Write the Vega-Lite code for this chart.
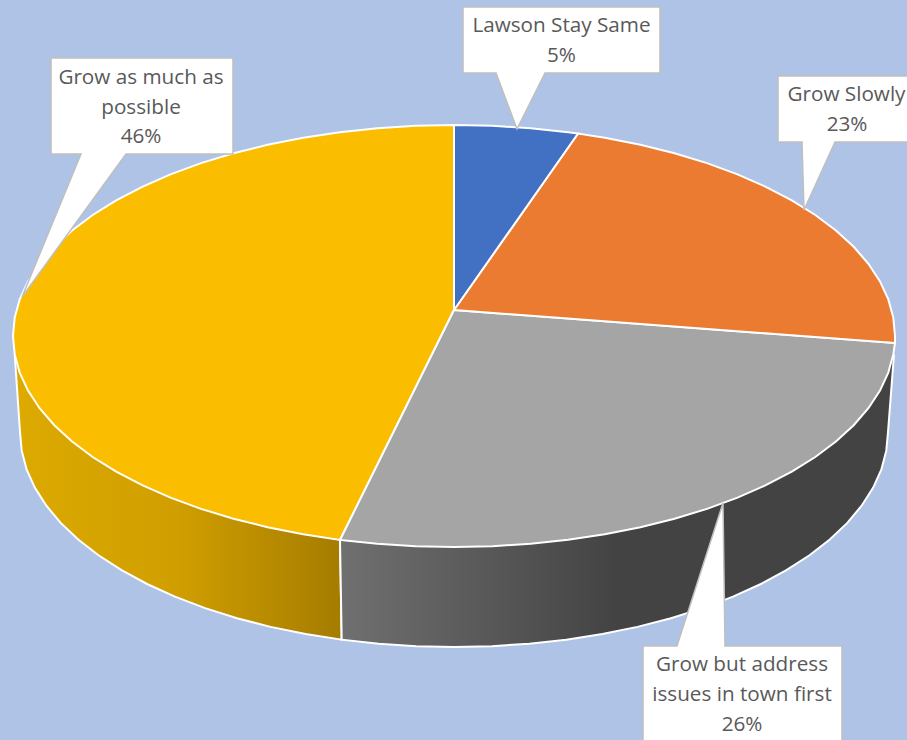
{"$schema":"https://vega.github.io/schema/vega-lite/v6.json","width":907,"height":740,"padding":0,"autosize":{"type":"fit","contains":"padding"},"background":"#aec3e6","view":{"stroke":null},
"datasets":{
"wallYellow":[{"x":14.7,"y":354.4},{"x":20,"y":432},{"x":21.7,"y":450.7},{"x":26.6,"y":469.3},{"x":34.8,"y":487.6},{"x":46.2,"y":505.5},{"x":60.7,"y":522.9},{"x":78.2,"y":539.5},{"x":98.5,"y":555.3},{"x":121.6,"y":570.2},{"x":147.1,"y":584},{"x":175,"y":596.7},{"x":205.1,"y":608.1},{"x":237,"y":618.2},{"x":270.6,"y":626.9},{"x":305.6,"y":634},{"x":341.7,"y":639.7},{"x":340,"y":540},{"x":14.7,"y":354.4}],
"wallGray":[{"x":894,"y":354.4},{"x":888,"y":432},{"x":886.3,"y":450.7},{"x":881.4,"y":469.3},{"x":873.2,"y":487.6},{"x":861.8,"y":505.5},{"x":847.3,"y":522.9},{"x":829.8,"y":539.5},{"x":809.5,"y":555.3},{"x":786.4,"y":570.2},{"x":760.9,"y":584},{"x":733,"y":596.7},{"x":702.9,"y":608.1},{"x":671,"y":618.2},{"x":637.4,"y":626.9},{"x":602.4,"y":634},{"x":566.3,"y":639.7},{"x":529.3,"y":643.7},{"x":491.8,"y":646.2},{"x":454,"y":647},{"x":416.2,"y":646.2},{"x":378.7,"y":643.7},{"x":341.7,"y":639.7},{"x":340,"y":540},{"x":894,"y":354.4}],
"topBlue":[{"x":454,"y":310},{"x":454,"y":125},{"x":492.5,"y":125.8},{"x":530.6,"y":128.2},{"x":568.1,"y":132.2},{"x":578,"y":133.5},{"x":454,"y":310}],
"topOrange":[{"x":454,"y":310},{"x":578,"y":133.5},{"x":604.8,"y":137.7},{"x":640.4,"y":144.8},{"x":674.5,"y":153.3},{"x":707,"y":163.1},{"x":737.5,"y":174.4},{"x":765.8,"y":186.8},{"x":791.8,"y":200.4},{"x":815.3,"y":215},{"x":835.9,"y":230.5},{"x":853.7,"y":246.8},{"x":868.4,"y":263.8},{"x":880,"y":281.4},{"x":888.3,"y":299.4},{"x":893.3,"y":317.6},{"x":895,"y":336},{"x":895,"y":343},{"x":454,"y":310}],
"topGray":[{"x":454,"y":310},{"x":895,"y":343},{"x":893.3,"y":354.4},{"x":888.3,"y":372.6},{"x":880,"y":390.6},{"x":868.4,"y":408.2},{"x":853.7,"y":425.2},{"x":835.9,"y":441.5},{"x":815.3,"y":457},{"x":791.8,"y":471.6},{"x":765.8,"y":485.2},{"x":737.5,"y":497.6},{"x":707,"y":508.9},{"x":674.5,"y":518.7},{"x":640.4,"y":527.2},{"x":604.8,"y":534.3},{"x":568.1,"y":539.8},{"x":530.6,"y":543.8},{"x":492.5,"y":546.2},{"x":454,"y":547},{"x":415.5,"y":546.2},{"x":377.4,"y":543.8},{"x":340,"y":540},{"x":454,"y":310}],
"topYellow":[{"x":454,"y":310},{"x":340,"y":540},{"x":303.2,"y":534.3},{"x":267.6,"y":527.2},{"x":233.5,"y":518.7},{"x":201,"y":508.9},{"x":170.5,"y":497.6},{"x":142.2,"y":485.2},{"x":116.2,"y":471.6},{"x":92.7,"y":457},{"x":72.1,"y":441.5},{"x":54.3,"y":425.2},{"x":39.6,"y":408.2},{"x":28,"y":390.6},{"x":19.7,"y":372.6},{"x":14.7,"y":354.4},{"x":13,"y":336},{"x":14.7,"y":317.6},{"x":19.7,"y":299.4},{"x":28,"y":281.4},{"x":39.6,"y":263.8},{"x":54.3,"y":246.8},{"x":72.1,"y":230.5},{"x":92.7,"y":215},{"x":116.2,"y":200.4},{"x":142.2,"y":186.8},{"x":170.5,"y":174.4},{"x":201,"y":163.1},{"x":233.5,"y":153.3},{"x":267.6,"y":144.8},{"x":303.2,"y":137.7},{"x":339.9,"y":132.2},{"x":377.4,"y":128.2},{"x":415.5,"y":125.8},{"x":454,"y":125},{"x":454,"y":310}],
"callouts":[
{"callout":"Lawson Stay Same","x":463,"y":7},{"callout":"Lawson Stay Same","x":660,"y":7},{"callout":"Lawson Stay Same","x":660,"y":73},{"callout":"Lawson Stay Same","x":545,"y":73},{"callout":"Lawson Stay Same","x":517,"y":129},{"callout":"Lawson Stay Same","x":496,"y":73},{"callout":"Lawson Stay Same","x":463,"y":73},{"callout":"Lawson Stay Same","x":463,"y":7},
{"callout":"Grow Slowly","x":778,"y":76},{"callout":"Grow Slowly","x":930,"y":76},{"callout":"Grow Slowly","x":930,"y":142},{"callout":"Grow Slowly","x":835,"y":142},{"callout":"Grow Slowly","x":804,"y":210},{"callout":"Grow Slowly","x":802,"y":142},{"callout":"Grow Slowly","x":778,"y":142},{"callout":"Grow Slowly","x":778,"y":76},
{"callout":"Grow as much as possible","x":51,"y":58},{"callout":"Grow as much as possible","x":233,"y":58},{"callout":"Grow as much as possible","x":233,"y":154},{"callout":"Grow as much as possible","x":126,"y":154},{"callout":"Grow as much as possible","x":22,"y":297},{"callout":"Grow as much as possible","x":81,"y":154},{"callout":"Grow as much as possible","x":51,"y":154},{"callout":"Grow as much as possible","x":51,"y":58},
{"callout":"Grow but address issues in town first","x":643,"y":646},{"callout":"Grow but address issues in town first","x":677,"y":646},{"callout":"Grow but address issues in town first","x":723,"y":503},{"callout":"Grow but address issues in town first","x":725,"y":646},{"callout":"Grow but address issues in town first","x":842,"y":646},{"callout":"Grow but address issues in town first","x":842,"y":770},{"callout":"Grow but address issues in town first","x":643,"y":770},{"callout":"Grow but address issues in town first","x":643,"y":646}],
"labels":[
{"text":"Lawson Stay Same","x":561.5,"y":26},{"text":"5%","x":561.5,"y":56},
{"text":"Grow Slowly","x":846.5,"y":95},{"text":"23%","x":847,"y":125},
{"text":"Grow as much as","x":141,"y":78},{"text":"possible","x":141,"y":108},{"text":"46%","x":141,"y":137},
{"text":"Grow but address","x":742,"y":665},{"text":"issues in town first","x":742,"y":695},{"text":"26%","x":742,"y":725}]
},
"encoding":{"x":{"field":"x","type":"quantitative","axis":null,"scale":{"domain":[0,907],"nice":false,"zero":false}},"y":{"field":"y","type":"quantitative","axis":null,"scale":{"domain":[740,0],"nice":false,"zero":false}},"order":{"value":null}},
"layer":[
{"data":{"name":"wallYellow"},"mark":{"type":"line","filled":true,"clip":true,"strokeWidth":2,"stroke":"#ffffff","fill":{"gradient":"linear","x1":0,"x2":1,"y1":0,"y2":0,"stops":[{"offset":0,"color":"#dcaa00"},{"offset":0.5,"color":"#d09e00"},{"offset":1,"color":"#a57c00"}]}}},
{"data":{"name":"wallGray"},"mark":{"type":"line","filled":true,"clip":true,"strokeWidth":2,"stroke":"#ffffff","fill":{"gradient":"linear","x1":0,"x2":1,"y1":0,"y2":0,"stops":[{"offset":0,"color":"#707070"},{"offset":0.5,"color":"#434343"},{"offset":1,"color":"#434343"}]}}},
{"data":{"name":"topYellow"},"mark":{"type":"line","filled":true,"clip":true,"strokeWidth":2,"stroke":"#ffffff","fill":"#fbbd00"}},
{"data":{"name":"topGray"},"mark":{"type":"line","filled":true,"clip":true,"strokeWidth":2,"stroke":"#ffffff","fill":"#a5a5a5"}},
{"data":{"name":"topOrange"},"mark":{"type":"line","filled":true,"clip":true,"strokeWidth":2,"stroke":"#ffffff","fill":"#eb7b30"}},
{"data":{"name":"topBlue"},"mark":{"type":"line","filled":true,"clip":true,"strokeWidth":2,"stroke":"#ffffff","fill":"#4270c2"}},
{"data":{"name":"callouts"},"mark":{"type":"line","filled":true,"clip":true,"strokeWidth":1.5,"stroke":"#bfbfbf","fill":"#ffffff"},"encoding":{"detail":{"field":"callout"}}},
{"data":{"name":"labels"},"mark":{"type":"text","font":"Open Sans","fontSize":20.7,"color":"#595959","align":"center","baseline":"middle"},"encoding":{"text":{"field":"text"},"order":{"value":null}}}
]}
